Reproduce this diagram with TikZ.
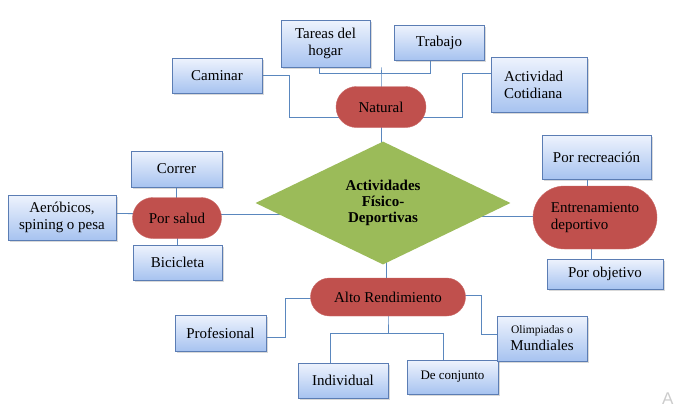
\documentclass[tikz,border=0pt]{standalone}
\usepackage{fontspec}
\setmainfont{Liberation Serif}
\setsansfont{Liberation Sans}
\usetikzlibrary{shapes.geometric,shapes.misc,shadows,backgrounds}
\definecolor{cajaarriba}{HTML}{EEF3FD}
\definecolor{cajaabajo}{HTML}{A7C3F0}
\definecolor{cajaborde}{HTML}{5B7DB4}
\definecolor{rojopastilla}{HTML}{C0504D}
\definecolor{verderombo}{HTML}{9BBB59}
\definecolor{linea}{HTML}{5A87BE}
\tikzset{
  caja/.style={rectangle,draw=cajaborde,line width=0.8pt,top color=cajaarriba,bottom color=cajaabajo,
    drop shadow={shadow xshift=1.5pt,shadow yshift=-2pt,opacity=0.3},
    align=center,inner sep=0pt,font=\fontsize{15}{17}\selectfont},
  pastilla/.style={rounded rectangle,fill=rojopastilla,draw=rojopastilla!85!white,
    align=center,inner sep=0pt,font=\fontsize{15}{17}\selectfont},
  conector/.style={draw=linea,line width=0.8pt}
}
\begin{document}
\begin{tikzpicture}[x=1pt,y=-1pt]
        \useasboundingbox (0,0) rectangle (674,407);
        %% Centro
        \node[diamond,fill=verderombo,minimum width=255pt,minimum height=123pt,inner sep=0pt,
              align=center,font=\fontsize{15}{16}\selectfont\bfseries] (act) at (383,203)
              {Actividades\\Físico-\\Deportivas};
        %% Ramas
        \node[pastilla,minimum width=90pt,minimum height=41pt] (natural) at (381,107) {Natural};
        \node[pastilla,minimum width=89pt,minimum height=41pt] (salud) at (177,218) {Por salud};
        \node[pastilla,minimum width=124pt,minimum height=63pt,align=left] (entren) at (595,217.5)
              {Entrenamiento\\deportivo};
        \node[pastilla,minimum width=155pt,minimum height=38pt] (alto) at (388,297) {Alto Rendimiento};
        %% Cajas
        \node[caja,minimum width=90pt,minimum height=35pt] (caminar) at (217,75.5) {Caminar};
        \node[caja,minimum width=89pt,minimum height=47pt] (tareas) at (325.5,43.5) {Tareas del\\hogar};
        \node[caja,minimum width=90pt,minimum height=35pt] (trabajo) at (439,42.5) {Trabajo};
        \node[caja,minimum width=96pt,minimum height=55pt,align=left,text width=70pt] (cotidiana) at (539,84.5) {Actividad\\Cotidiana};
        \node[caja,minimum width=91pt,minimum height=36pt] (correr) at (176.5,169) {Correr};
        \node[caja,minimum width=108pt,minimum height=45pt] (aerobicos) at (62,217.5) {Aeróbicos,\\spining o pesa};
        \node[caja,minimum width=89pt,minimum height=35pt] (bicicleta) at (177.5,262.5) {Bicicleta};
        \node[caja,minimum width=109pt,minimum height=44pt] (recreacion) at (596.5,157) {Por recreación};
        \node[caja,minimum width=116pt,minimum height=30pt] (objetivo) at (605,274) {Por objetivo};
        \node[caja,minimum width=91pt,minimum height=36pt] (profesional) at (220.5,333) {Profesional};
        \node[caja,minimum width=90pt,minimum height=35pt] (individual) at (343,380.5) {Individual};
        \node[caja,minimum width=91pt,minimum height=34pt,font=\fontsize{13}{15}\selectfont] (conjunto) at (452.5,377) {De conjunto};
        \node[caja,minimum width=90pt,minimum height=45pt] (olimpiadas) at (542,338.5)
              {{\fontsize{11.5}{13}\selectfont Olimpiadas o}\\Mundiales};
        \node[anchor=north west,inner sep=0pt,text=black!20,font=\sffamily\fontsize{17}{17}\selectfont] (marca) at (662,393) {A};
        %% Conectores
        \begin{scope}[on background layer]
        \draw[conector] (caminar.east) -- ++(27,0) |- ([yshift=-10pt]natural.center);
        \draw[conector] ([yshift=11pt]cotidiana.west) -- ++(-28,0) |- ([yshift=-10pt]natural.center);
        \draw[conector] ([xshift=-6pt]tareas.south) -- ++(0,6) -| ([xshift=-9pt]trabajo.south);
        \draw[conector] (natural.center) -- (natural.center |- tareas.south) -- ++(0,6);
        \draw[conector] (natural.center) -- (natural.center |- act.center);
        \draw[conector] (correr.south) -- (correr.south |- salud.center);
        \draw[conector] (bicicleta.north) -- (bicicleta.north |- salud.center);
        \draw[conector] ([yshift=4pt]aerobicos.east) -- ([yshift=4pt]salud.center);
        \draw[conector] ([yshift=4pt]salud.center) -- ([yshift=4pt]salud.center -| act.center);
        \draw[conector] ([yshift=1pt]entren.center) -- ([yshift=1pt]entren.center -| act.center);
        \draw[conector] ([xshift=-9pt]recreacion.south) -- ([xshift=-9pt]recreacion.south |- entren.center);
        \draw[conector] ([xshift=-4pt]entren.center) -- ([xshift=-4pt]entren.center |- objetivo.north);
        \draw[conector] ([xshift=3pt]act.center) -- ([xshift=3pt]act.center |- alto.center);
        \draw[conector] ([yshift=-4pt]profesional.east) -- ++(19,0) |- ([yshift=-1pt]alto.center);
        \draw[conector] (alto.center) -- (alto.center |- alto.south) -- ++(0,17) coordinate (rama);
        \draw[conector] ([xshift=-13pt]individual.north) |- (rama) -| ([xshift=-9pt]conjunto.north);
        \draw[conector] ([yshift=2pt]alto.center) -| ([xshift=16pt]alto.east) |- ([yshift=4pt]olimpiadas.west);
        \end{scope}
    \end{tikzpicture}
\end{document}
